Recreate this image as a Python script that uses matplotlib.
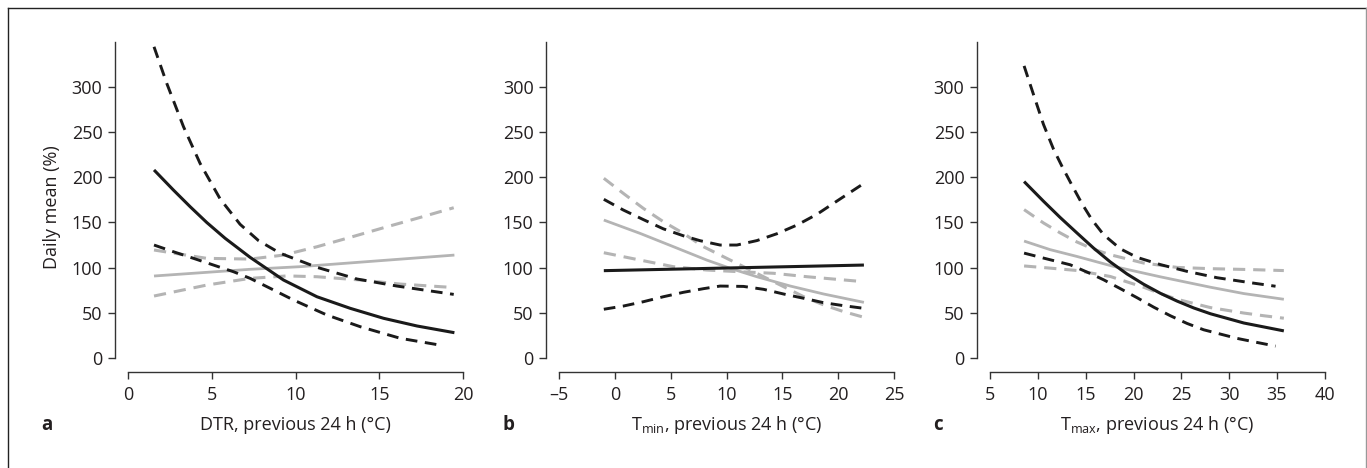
import matplotlib
matplotlib.use('Agg')
import matplotlib.pyplot as plt
from matplotlib.lines import Line2D

plt.rcParams['font.family'] = ['Open Sans', 'DejaVu Sans']
plt.rcParams['mathtext.fontset'] = 'custom'
plt.rcParams['mathtext.rm'] = 'Open Sans'
plt.rcParams['mathtext.it'] = 'Open Sans:italic'

# ---- panel a: DTR ----
a_mid_x = [1.55, 2.71, 3.71, 4.7, 5.8, 7.29, 9.28, 11.28, 13.27, 15.26, 17.26, 19.49]
a_mid_y = [208, 185.8, 167.4, 150, 132.5, 111.5, 86.5, 68, 55.2, 44.2, 35.7, 28.3]
a_hi_x = [1.55, 2.31, 3.31, 4.3, 5.5, 6.69, 7.79, 9.09, 11.28, 13.67, 16.06, 19.45]
a_hi_y = [344, 303.7, 255.8, 215.3, 176, 148, 130, 116, 100.5, 87.6, 79.8, 70.6]
a_lo_x = [1.55, 2.71, 3.91, 5.1, 6.3, 7.29, 8.49, 9.88, 11.88, 13.87, 16.26, 18.85]
a_lo_y = [125.1, 117.7, 110.4, 103, 95.6, 88.3, 77.3, 64.4, 47.8, 34.9, 22.1, 13.9]
a_gmid_x = [1.55, 7.29, 10.28, 19.49]
a_gmid_y = [90.9, 98.3, 101.2, 114]
a_ghi_x = [1.55, 4.7, 7.29, 9.28, 11.28, 13.27, 15.26, 17.26, 19.45]
a_ghi_y = [119.6, 110.4, 109.6, 114, 123.2, 133.6, 144.2, 154.6, 166.3]
a_glo_x = [1.55, 4.7, 7.29, 9.5, 11.28, 13.87, 16.26, 18.75, 19.3]
a_glo_y = [68.8, 80.9, 88.3, 91, 90.1, 86.5, 82, 79, 78.4]

# ---- panel b: Tmin ----
b_mid_x = [-0.99, 22.31]
b_mid_y = [96.8, 103]
b_hi_x = [-0.99, 0.75, 2.55, 4.34, 6.14, 7.63, 9.43, 10.93, 12.72, 14.52, 16.32, 18.11, 19.91, 22.31]
b_hi_y = [175.6, 163.8, 153.2, 143, 135.3, 129.9, 125.1, 125.1, 130, 137.6, 147.2, 159.1, 173.8, 193.2]
b_lo_x = [-0.99, 0.75, 2.55, 4.34, 6.14, 7.93, 9.43, 11.53, 13.32, 15.12, 16.92, 18.71, 20.51, 22.31]
b_lo_y = [54.2, 57.7, 62.5, 68, 72.9, 76.9, 79.8, 79.4, 76.2, 71, 66.3, 61.4, 58.1, 55.2]
b_gmid_x = [-0.99, 2.25, 5.24, 8.23, 10.33, 12.72, 15.72, 18.71, 22.31]
b_gmid_y = [152.7, 138, 123.3, 108.5, 99.4, 90.1, 79.8, 71, 61.8]
b_ghi_x = [-0.99, 0.75, 2.55, 4.34, 6.14, 7.93, 9.73, 11.53, 13.32, 15.12, 16.92, 18.71, 20.51, 22.31]
b_ghi_y = [198.8, 182.2, 165.6, 150.9, 138, 123.3, 112.2, 101.2, 90.1, 79.1, 68, 58.9, 51.5, 45.3]
b_glo_x = [-0.99, 2.25, 5.24, 8.23, 11.23, 14.22, 17.22, 22.31]
b_glo_y = [116.6, 108.5, 101.2, 97.5, 95.6, 93.9, 90.1, 84.6]

# ---- panel c: Tmax ----
c_mid_x = [8.53, 10.56, 12.31, 14.06, 15.8, 17.55, 19.3, 21.05, 22.8, 24.55, 26.3, 28.05, 31.54, 35.73]
c_mid_y = [195.2, 173.5, 155.5, 138.5, 121.8, 106.5, 93.2, 81.8, 71.8, 63.2, 55.6, 49.2, 39, 30.3]
c_hi_x = [8.53, 9.51, 10.56, 11.61, 12.49, 13.55, 14.58, 15.63, 16.86, 18.6, 20.35, 22.8, 25.6, 28.74, 32.24, 34.86]
c_hi_y = [322.9, 291.5, 258.3, 231, 212.2, 191, 171, 153.1, 136.5, 121, 111.5, 103.5, 96, 89, 83.5, 79.6]
c_lo_x = [8.53, 10.56, 13.36, 15.5, 16.86, 18.6, 20.35, 22.1, 23.85, 25.6, 27.34, 30.84, 32.94, 34.86]
c_lo_y = [116.2, 110.7, 103.3, 93.5, 86.7, 77, 67, 56.5, 47, 38.5, 31.5, 22, 17.5, 13.5]
c_gmid_x = [8.53, 11.26, 14.06, 17.9, 22.8, 28.05, 31.54, 35.73]
c_gmid_y = [129.5, 120, 112.5, 101.5, 90, 78.5, 71.5, 65.2]
c_ghi_x = [8.53, 10.56, 12.31, 14.06, 15.8, 17.55, 21.05, 24.55, 28.05, 32.24, 35.73]
c_ghi_y = [164.2, 149.5, 138.5, 128.5, 120.5, 114.4, 105.2, 100.4, 99, 98, 96.9]
c_glo_x = [8.53, 11.26, 14.06, 17.55, 21.05, 22.8, 24.55, 28.05, 31.54, 33.64, 35.73]
c_glo_y = [102, 99.6, 97, 90.4, 78.5, 71.5, 65.2, 56, 50, 47, 44.3]

y_ticks = [0, 50, 100, 150, 200, 250, 300]
a_xticks = [0, 5, 10, 15, 20]
b_xticks = [-5, 0, 5, 10, 15, 20, 25]
c_xticks = [5, 10, 15, 20, 25, 30, 35, 40]

BLACK = '#1a1a1a'
GRAY = '#b4b4b4'
DASH = (0, (4.0, 2.6))
TXT = '#231f20'

W, H = 1367, 468
fig = plt.figure(figsize=(W / 100, H / 100), dpi=100)

panels = [
    dict(left=115, xlim=(-0.78, 20.78), xb=(0, 20), xt=a_xticks, tag='a',
         xlabel='DTR, previous 24 h (°C)',
         curves=[(a_gmid_x, a_gmid_y, a_ghi_x, a_ghi_y, a_glo_x, a_glo_y),
                 (a_mid_x, a_mid_y, a_hi_x, a_hi_y, a_lo_x, a_lo_y)]),
    dict(left=546, xlim=(-6.17, 26.17), xb=(-5, 25), xt=b_xticks, tag='b',
         xlabel=r'$\mathrm{T_{min}}$, previous 24 h (°C)',
         curves=[(b_gmid_x, b_gmid_y, b_ghi_x, b_ghi_y, b_glo_x, b_glo_y),
                 (b_mid_x, b_mid_y, b_hi_x, b_hi_y, b_lo_x, b_lo_y)]),
    dict(left=977, xlim=(3.6, 41.4), xb=(5, 40), xt=c_xticks, tag='c',
         xlabel=r'$\mathrm{T_{max}}$, previous 24 h (°C)',
         curves=[(c_gmid_x, c_gmid_y, c_ghi_x, c_ghi_y, c_glo_x, c_glo_y),
                 (c_mid_x, c_mid_y, c_hi_x, c_hi_y, c_lo_x, c_lo_y)]),
]

top_px, bot_px, width_px = 42, 372, 361
label_base_px = 430
for i, p in enumerate(panels):
    ax = fig.add_axes([p['left'] / W, 1 - bot_px / H, width_px / W, (bot_px - top_px) / H])
    ax.set_xlim(*p['xlim'])
    ax.set_ylim(-15.1, 349.3)
    for (mx, my, hx, hy, lx, ly), col, lw_s, lw_d in zip(p['curves'], [GRAY, BLACK], [2.0, 2.2], [2.2, 2.1]):
        ax.plot(hx, hy, color=col, lw=lw_d, ls=DASH)
        ax.plot(lx, ly, color=col, lw=lw_d, ls=DASH)
        ax.plot(mx, my, color=col, lw=lw_s, solid_capstyle='butt')
    ax.spines['top'].set_visible(False)
    ax.spines['right'].set_visible(False)
    ax.spines['left'].set_bounds(0, 349.3)
    ax.spines['bottom'].set_bounds(*p['xb'])
    for s in ('left', 'bottom'):
        ax.spines[s].set_color('#333333')
        ax.spines[s].set_linewidth(1.0)
    ax.set_yticks(y_ticks)
    ax.set_xticks(p['xt'])
    ax.set_xticklabels([str(v).replace('-', '\u2013') for v in p['xt']])
    ax.tick_params(length=5, width=1.0, color='#333333', labelsize=13,
                   labelcolor=TXT)
    ax.tick_params(axis='y', pad=4)
    ax.tick_params(axis='x', pad=5)
    ax.set_xlabel(p['xlabel'], fontsize=13, color=TXT, va='baseline')
    ax.xaxis.set_label_coords(0.5, -(label_base_px - bot_px) / (bot_px - top_px))
    if i == 0:
        ax.set_ylabel('Daily mean (%)', fontsize=13, color=TXT, labelpad=8)
    tag_x = [47, 508, 938][i]
    fig.text(tag_x / W, 1 - label_base_px / H, p['tag'], fontsize=13.5, fontweight='bold',
             ha='center', va='baseline', color=TXT)

# outer frame (bottom edge cut off)
fig.add_artist(Line2D([7.5 / W, 7.5 / W], [0, 1 - 7.5 / H], color='#222222', lw=1.0))
fig.add_artist(Line2D([7.5 / W, 1366 / W], [1 - 7.5 / H, 1 - 7.5 / H], color='#222222', lw=1.0))
fig.add_artist(Line2D([1366 / W, 1366 / W], [0, 1 - 7.5 / H], color='#999999', lw=1.0))

fig.savefig('out.png', dpi=100)
